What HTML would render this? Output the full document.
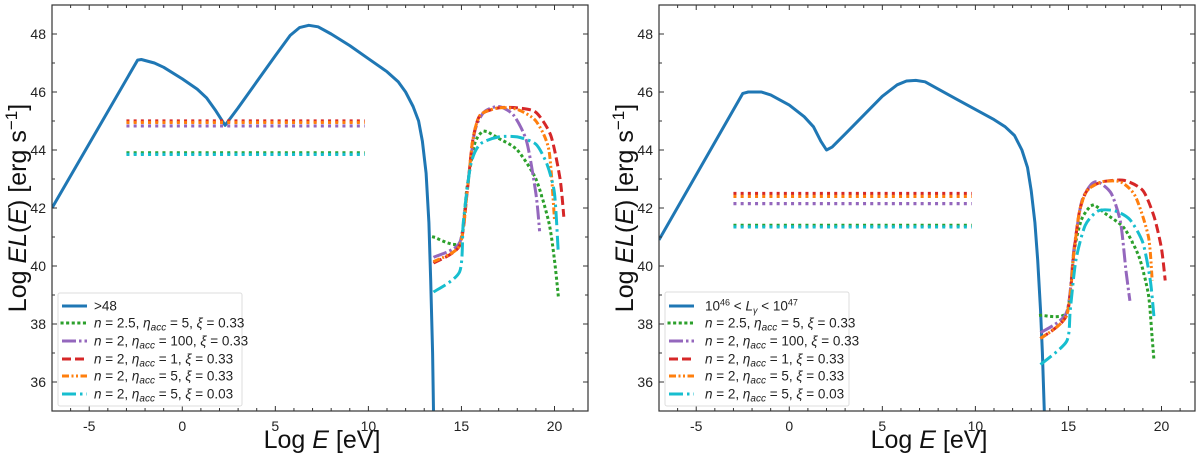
<!DOCTYPE html>
<html><head><meta charset="utf-8"><style>
html,body{margin:0;padding:0;background:#fff;}
svg{display:block;font-family:"Liberation Sans","DejaVu Sans",sans-serif;}
</style></head>
<body>
<svg id="chart" width="1200" height="455" viewBox="0 0 1200 455" xmlns="http://www.w3.org/2000/svg"></svg>
<script>
// ---- data ----
const xTicks = [-5, 0, 5, 10, 15, 20];
const yTicks = [36, 38, 40, 42, 44, 46, 48];
const seriesColors = ["#1f77b4","#2ca02c","#9467bd","#d62728","#ff7f0e","#17becf"];
const leftBlueX = [-7,-2.4,-2.2,-1.5,-1,0,0.8,1.3,1.8,2.3,3,4,5,5.8,6.3,6.8,7.3,8,9,10,11,11.6,12.0,12.4,12.7,12.9,13.1,13.25,13.35,13.45,13.5];
const leftBlueY = [42,47.1,47.12,47.0,46.85,46.45,46.1,45.8,45.35,44.85,45.45,46.35,47.25,47.95,48.22,48.3,48.25,48.0,47.6,47.15,46.7,46.35,46.0,45.5,45.0,44.3,43.2,41.5,39.5,37,35];
const rightBlueX = [-7,-2.5,-2.2,-1.5,-1,0,0.8,1.3,1.7,2.0,2.3,3,4,5,5.8,6.3,6.8,7.3,8,9,10,11,11.6,12.1,12.5,12.8,13.0,13.2,13.35,13.5,13.6,13.7];
const rightBlueY = [40.9,45.95,46.0,46.0,45.9,45.55,45.15,44.8,44.3,44.0,44.1,44.55,45.2,45.85,46.25,46.38,46.4,46.35,46.1,45.75,45.4,45.05,44.8,44.5,44.0,43.4,42.6,41.5,40.2,38.5,37,35];
const hLineX = [-3, 9.8];
const leftHLevels = [43.9, 44.83, 45.0, 44.95, 43.85];   // green, purple, red, orange, cyan
const rightHLevels = [41.4, 42.15, 42.5, 42.4, 41.35];
const lGreenX=[13.5,14.9,15.3,15.7,16.2,17,18,19,19.7,20,20.2];
const lGreenY=[41.0,40.8,42.7,44.2,44.65,44.4,44.0,43.0,41.5,40.2,39.0];
const lPurpleX=[13.5,14.9,15.3,15.7,16.2,17,17.8,18.5,19,19.2];
const lPurpleY=[40.3,40.8,42.6,44.6,45.3,45.5,45.2,44.3,42.5,41.2];
const lRedX=[13.5,14.9,15.3,15.6,16,17,18,19,19.8,20.3,20.5];
const lRedY=[40.1,40.7,42.5,44.3,45.2,45.45,45.45,45.3,44.5,43.0,41.7];
const lOrangeX=[13.5,14.9,15.3,15.6,16,17,18,19,19.7,20.0];
const lOrangeY=[40.15,40.7,42.5,44.3,45.2,45.45,45.4,45.0,44.0,41.6];
const lCyanX=[13.5,14.9,15.1,15.5,16,17,18,19,19.6,20,20.2];
const lCyanY=[39.1,39.8,41.5,43.5,44.2,44.45,44.45,44.2,43.5,42.5,40.5];
const rGreenX=[13.5,14.9,15.3,15.7,16.3,17,18,18.8,19.3,19.5,19.6];
const rGreenY=[38.3,38.4,40.5,41.6,42.1,41.8,41.3,40.3,39.0,37.5,36.7];
const rPurpleX=[13.5,14.9,15.3,15.7,16.2,16.6,17.3,17.8,18.1,18.3];
const rPurpleY=[37.7,38.4,40.6,42.2,42.8,42.9,42.5,41.5,39.8,38.8];
const rRedX=[13.5,14.9,15.3,15.6,16,16.8,18,19,19.6,20,20.2];
const rRedY=[37.5,38.3,40.5,41.9,42.6,42.9,42.95,42.6,41.7,40.6,39.5];
const rOrangeX=[13.5,14.9,15.3,15.6,16,16.8,17.8,18.6,19.3,19.5];
const rOrangeY=[37.5,38.3,40.5,41.9,42.6,42.9,42.9,42.4,41.0,39.5];
const rCyanX=[13.5,14.9,15.1,15.4,15.9,16.6,17.5,18.3,19,19.4,19.6];
const rCyanY=[36.6,37.4,38.5,40.2,41.4,41.9,41.9,41.6,40.8,39.5,38.2];

// ---- drawing ----
const NS="http://www.w3.org/2000/svg";
const svg=document.getElementById('chart');
function mk(tag,attrs,parent){const e=document.createElementNS(NS,tag);for(const k in attrs)e.setAttribute(k,attrs[k]);(parent||svg).appendChild(e);return e;}
const dashes=[null,"0.1 5.5","14 3 2.5 3","9 4","7 2.5 2 2.5 2 2.5","14 4 2.5 4"];
const caps=["butt","square","butt","butt","butt","butt"];

function linePath(xs,ys,sx,sy){
  return xs.map((x,i)=>(i?"L":"M")+sx(x).toFixed(1)+","+sy(ys[i]).toFixed(1)).join(" ");
}
function smoothPath(xs,ys,sx,sy){
  const p=xs.map((x,i)=>[sx(x),sy(ys[i])]);
  let d="M"+p[0][0].toFixed(1)+","+p[0][1].toFixed(1);
  for(let i=0;i<p.length-1;i++){
    const p0=p[i-1]||p[i],p1=p[i],p2=p[i+1],p3=p[i+2]||p2;
    const t=0.12;
    const c1=[p1[0]+(p2[0]-p0[0])*t,p1[1]+(p2[1]-p0[1])*t];
    const c2=[p2[0]-(p3[0]-p1[0])*t,p2[1]-(p3[1]-p1[1])*t];
    d+=" C"+c1.map(v=>v.toFixed(1))+" "+c2.map(v=>v.toFixed(1))+" "+p2[0].toFixed(1)+","+p2[1].toFixed(1);
  }
  return d;
}

function panel(name,x0,x1,blue,hLevels,curves,legendBox,firstLabel){
  const y0=5,y1=411,xmin=-7,xmax=21.8,ymin=35,ymax=49;
  const sx=v=>x0+(v-xmin)/(xmax-xmin)*(x1-x0);
  const sy=v=>y1-(v-ymin)/(ymax-ymin)*(y1-y0);
  const g=mk('g',{});
  
  
  const clipId=name+"-clip";
  const cp=mk('clipPath',{id:clipId},g);mk('rect',{x:x0,y:y0,width:x1-x0,height:y1-y0},cp);
  const plot=mk('g',{'clip-path':'url(#'+clipId+')'},g);
  
  
  const bl=mk('path',{d:linePath(blue[0],blue[1],sx,sy),fill:'none',stroke:seriesColors[0],'stroke-width':3,'stroke-linejoin':'round'},plot);
  
  
  const hOrder=[1,2,3,4,5];
  hLevels.forEach((lv,i)=>{
    const l=mk('line',{x1:sx(hLineX[0]),x2:sx(hLineX[1]),y1:sy(lv),y2:sy(lv),stroke:seriesColors[hOrder[i]],'stroke-width':3.2,'stroke-dasharray':'3 4.2'},plot);
    
    
  });
  curves.forEach((c,i)=>{
    const k=i+1;
    const a={d:smoothPath(c[0],c[1],sx,sy),fill:'none',stroke:seriesColors[k],'stroke-width':3,'stroke-linecap':caps[k]};
    if(dashes[k])a['stroke-dasharray']=dashes[k];
    const p=mk('path',a,plot);
    
    
  });
  const fr=mk('rect',{x:x0,y:y0,width:x1-x0,height:y1-y0,fill:'none',stroke:'#333','stroke-width':1.2},g);
  
  
  for(let v=-7;v<=21;v++){
    const X=sx(v),major=xTicks.includes(v),L=major?5:3;
    mk('line',{x1:X,x2:X,y1:y1,y2:y1-L,stroke:'#333','stroke-width':1},g);
    mk('line',{x1:X,x2:X,y1:y0,y2:y0+L,stroke:'#333','stroke-width':1},g);
  }
  for(let v=36;v<=48;v++){
    const Y=sy(v),major=yTicks.includes(v),L=major?5:3;
    mk('line',{x1:x0,x2:x0+L,y1:Y,y2:Y,stroke:'#333','stroke-width':1},g);
    mk('line',{x1:x1,x2:x1-L,y1:Y,y2:Y,stroke:'#333','stroke-width':1},g);
  }
  xTicks.forEach(v=>{
    const t=mk('text',{x:sx(v),y:y1+20,'text-anchor':'middle','font-size':14,fill:'#222'},g);
    t.textContent=v<0?"-"+Math.abs(v):String(v);
    
    
  });
  yTicks.forEach(v=>{
    const t=mk('text',{x:x0-6,y:sy(v)+5,'text-anchor':'end','font-size':14,fill:'#222'},g);
    t.textContent=String(v);
    
    
  });
  const xt=mk('text',{x:(x0+x1)/2+2,y:448,'text-anchor':'middle','font-size':25,fill:'#111'},g);
  xt.innerHTML='Log <tspan font-style="italic">E</tspan> [eV]';
  
  
  const yt=mk('text',{x:0,y:0,'text-anchor':'middle','font-size':25,fill:'#111',transform:'translate('+(x0-26)+',208) rotate(-90)'},g);
  yt.innerHTML='Log <tspan font-style="italic">EL</tspan>(<tspan font-style="italic">E</tspan>) [erg s<tspan dy="-9" font-size="17">−1</tspan><tspan dy="9">]</tspan>';
  
  
  const lg=mk('g',{},g);
  
  
  mk('rect',{x:legendBox[0],y:legendBox[1],width:legendBox[2],height:legendBox[3],fill:'#fff','fill-opacity':0.8,stroke:'#ddd','stroke-width':1,rx:2},lg);
  const rows=[306,323,341,359,376,394];
  const texts=[firstLabel,
   '<tspan font-style="italic">n</tspan> = 2.5, <tspan font-style="italic">η<tspan font-size="10" dy="3">acc</tspan></tspan><tspan dy="-3"> = 5, </tspan><tspan font-style="italic">ξ</tspan> = 0.33',
   '<tspan font-style="italic">n</tspan> = 2, <tspan font-style="italic">η<tspan font-size="10" dy="3">acc</tspan></tspan><tspan dy="-3"> = 100, </tspan><tspan font-style="italic">ξ</tspan> = 0.33',
   '<tspan font-style="italic">n</tspan> = 2, <tspan font-style="italic">η<tspan font-size="10" dy="3">acc</tspan></tspan><tspan dy="-3"> = 1, </tspan><tspan font-style="italic">ξ</tspan> = 0.33',
   '<tspan font-style="italic">n</tspan> = 2, <tspan font-style="italic">η<tspan font-size="10" dy="3">acc</tspan></tspan><tspan dy="-3"> = 5, </tspan><tspan font-style="italic">ξ</tspan> = 0.33',
   '<tspan font-style="italic">n</tspan> = 2, <tspan font-style="italic">η<tspan font-size="10" dy="3">acc</tspan></tspan><tspan dy="-3"> = 5, </tspan><tspan font-style="italic">ξ</tspan> = 0.03'];
  const lx=legendBox[0]+4;
  rows.forEach((ry,i)=>{
    const e=mk('g',{},lg);
    
    
    const a={x1:lx,x2:lx+25,y1:ry,y2:ry,stroke:seriesColors[i],'stroke-width':3,'stroke-linecap':caps[i]};
    if(dashes[i])a['stroke-dasharray']=dashes[i];
    mk('line',a,e);
    const t=mk('text',{x:lx+(legendBox[4]),y:ry+4.5,'font-size':13.5,fill:'#222'},e);
    t.innerHTML=texts[i];
  });
}

panel('left-panel',52,588,[leftBlueX,leftBlueY],leftHLevels,
  [[lGreenX,lGreenY],[lPurpleX,lPurpleY],[lRedX,lRedY],[lOrangeX,lOrangeY],[lCyanX,lCyanY]],
  [58,293,184,113,32],'&gt;48');
panel('right-panel',659,1195,[rightBlueX,rightBlueY],rightHLevels,
  [[rGreenX,rGreenY],[rPurpleX,rPurpleY],[rRedX,rRedY],[rOrangeX,rOrangeY],[rCyanX,rCyanY]],
  [665,292,184,114,36],'10<tspan font-size="9" dy="-5">46</tspan><tspan dy="5"> &lt; </tspan><tspan font-style="italic">L<tspan font-size="9" dy="3">γ</tspan></tspan><tspan dy="-3"> &lt; 10</tspan><tspan font-size="9" dy="-5">47</tspan>');
</script>
</body></html>
